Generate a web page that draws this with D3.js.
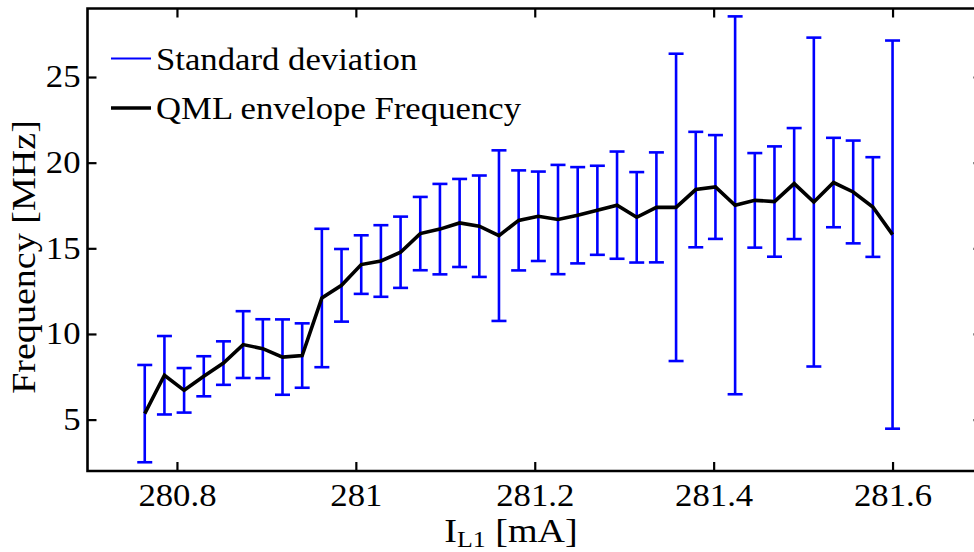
<!DOCTYPE html>
<html><head><meta charset="utf-8">
<script src="https://cdn.jsdelivr.net/npm/d3@7"></script>
<style>
body{margin:0;background:#fff}
svg{display:block}
text{font-family:"Liberation Serif","Times New Roman",serif;fill:#000}
</style>
</head><body><svg id="c" width="974" height="552"></svg>
<script>
const currentMA = [280.764,280.786,280.808,280.830,280.852,280.874,280.896,280.918,280.940,280.962,
  280.984,281.006,281.028,281.050,281.072,281.094,281.116,281.138,281.160,281.182,
  281.204,281.226,281.248,281.270,281.292,281.314,281.336,281.358,281.380,281.402,
  281.424,281.446,281.468,281.490,281.512,281.534,281.556,281.578,281.600];
const meanFreq = [5.35,7.59,6.71,7.53,8.30,9.38,9.14,8.65,8.74,12.10,
  12.84,14.05,14.26,14.77,15.86,16.12,16.48,16.29,15.74,16.63,
  16.87,16.68,16.93,17.22,17.52,16.81,17.39,17.39,18.43,18.58,
  17.51,17.80,17.73,18.78,17.70,18.84,18.29,17.41,15.80];
const stdDev = [2.84,2.29,1.30,1.17,1.27,1.95,1.72,2.20,1.88,4.04,
  2.12,1.71,2.09,2.08,2.14,2.64,2.57,2.96,4.98,2.92,
  2.61,3.19,2.81,2.60,3.13,2.64,3.21,8.97,3.37,3.03,
  11.03,2.76,3.22,3.24,9.60,2.61,3.00,2.91,11.33];
const xTicks = [280.8,281,281.2,281.4,281.6];
const xTickLabels = ["280.8","281","281.2","281.4","281.6"];
const yTicks = [5,10,15,20,25];
const yTickLabels = ["5","10","15","20","25"];
const legendLabels = ["Standard deviation","QML envelope Frequency"];

const m={l:87.5,t:8.5,r:982,b:471};
const FS=31, LFS=34, SX=1.12;
const svg=d3.select("#c");
const x=d3.scaleLinear().domain([280.7,281.7]).range([m.l,m.r]);
const y=d3.scaleLinear().domain([2,29]).range([m.b,m.t]);
const data=currentMA.map((c,i)=>({x:c,m:meanFreq[i],s:stdDev[i]}));

const gx=svg.append("g").attr("transform",`translate(0,${m.b})`)
  .call(d3.axisBottom(x).tickValues(xTicks).tickFormat((d,i)=>xTickLabels[i]).tickSizeInner(-9).tickSizeOuter(0).tickPadding(13));
const gxt=svg.append("g").attr("transform",`translate(0,${m.t})`)
  .call(d3.axisTop(x).tickValues(xTicks).tickFormat("").tickSizeInner(-9).tickSizeOuter(0));
const gy=svg.append("g").attr("transform",`translate(${m.l},0)`)
  .call(d3.axisLeft(y).tickValues(yTicks).tickFormat((d,i)=>yTickLabels[i]).tickSizeInner(-9).tickSizeOuter(0).tickPadding(7));
const gyr=svg.append("g").attr("transform",`translate(${m.r},0)`)
  .call(d3.axisRight(y).tickValues(yTicks).tickFormat("").tickSizeInner(-9).tickSizeOuter(0));
[gx,gxt,gy,gyr].forEach(g=>{
  g.select(".domain").remove();
  g.selectAll(".tick line").attr("stroke","#000").attr("stroke-width",2.2);
  g.selectAll(".tick text").attr("font-size",FS).attr("font-family","Liberation Serif, serif").attr("fill","#000");
});
gx.selectAll(".tick text").attr("transform",`scale(${SX},1)`);
gy.selectAll(".tick text").attr("x",-7/SX).attr("transform",`scale(${SX},1)`);
gyr.selectAll(".tick line").attr("stroke","#888");

const eb=svg.append("g").attr("stroke","#0000ff").attr("stroke-width",2.6).attr("fill","none");
const cap=7.5;
data.forEach(d=>{
  const cx=x(d.x), yt=y(d.m+d.s), yb=y(d.m-d.s);
  eb.append("line").attr("x1",cx).attr("x2",cx).attr("y1",yt).attr("y2",yb);
  eb.append("line").attr("x1",cx-cap).attr("x2",cx+cap).attr("y1",yt).attr("y2",yt);
  eb.append("line").attr("x1",cx-cap).attr("x2",cx+cap).attr("y1",yb).attr("y2",yb);
});

svg.append("path").datum(data)
  .attr("d",d3.line().x(d=>x(d.x)).y(d=>y(d.m)))
  .attr("fill","none").attr("stroke","#000").attr("stroke-width",3.6).attr("stroke-linejoin","miter");

svg.append("path")
  .attr("d",`M${m.l},${m.t}H${m.r}V${m.b}H${m.l}Z`)
  .attr("fill","none").attr("stroke","#000").attr("stroke-width",2.6);

const lg=svg.append("g");
const legY=[58.5,108];
lg.append("line").attr("x1",111).attr("x2",151).attr("y1",legY[0]).attr("y2",legY[0]).attr("stroke","#0000ff").attr("stroke-width",2.2);
lg.append("line").attr("x1",111).attr("x2",151).attr("y1",legY[1]).attr("y2",legY[1]).attr("stroke","#000").attr("stroke-width",3.6);
legendLabels.forEach((t,i)=>{
  lg.append("text").attr("transform",`translate(156,${legY[i]+11}) scale(${SX},1)`).attr("font-size",FS).text(t);
});

const xl=svg.append("text").attr("transform",`translate(511,542) scale(${SX},1)`).attr("text-anchor","middle").attr("font-size",LFS);
xl.append("tspan").text("I");
xl.append("tspan").attr("font-size",LFS*0.68).attr("dy",5).text("L1");
xl.append("tspan").attr("dy",-5).text(" [mA]");

svg.append("text").attr("transform",`translate(35,257) rotate(-90) scale(${SX},1)`)
  .attr("text-anchor","middle").attr("font-size",LFS).text("Frequency [MHz]");
</script>
</body></html>
